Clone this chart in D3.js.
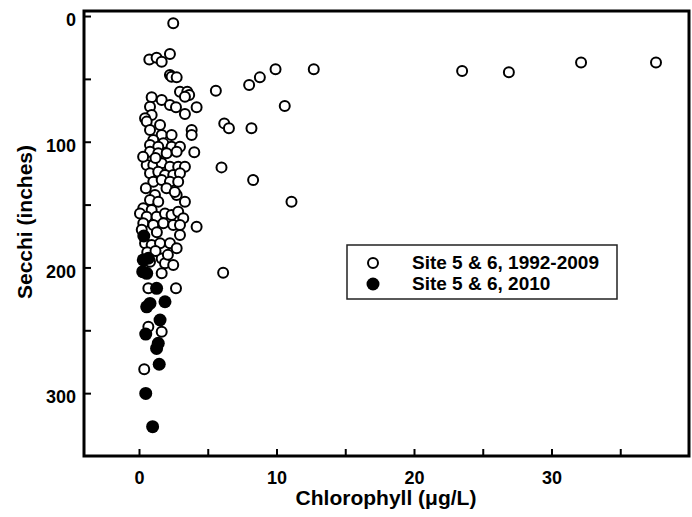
<!DOCTYPE html>
<html>
<head>
<meta charset="utf-8">
<script src="https://cdn.jsdelivr.net/npm/d3@7"></script>
<style>
  html, body { margin: 0; padding: 0; background: #fff; }
  text { font-family: "Liberation Sans", Arial, sans-serif; font-weight: bold; fill: #000; }
</style>
</head>
<body>
<svg id="chart" width="692" height="517"></svg>
<script>
// ---- data (Chlorophyll µg/L, Secchi inches) ----
const openChl = [2.49,0.75,1.28,1.65,2.25,2.25,2.37,2.74,5.59,2.98,3.51,3.65,3.34,0.92,0.80,0.92,1.65,2.25,2.69,3.34,4.19,0.44,
  8.01,8.79,9.93,12.71,10.6,6.2,6.54,8.18,3.83,3.83,4.02,6.0,8.3,11.09,4.19,
  23.5,26.9,32.15,37.6,
  0.56,1.53,0.8,1.65,2.37,1.04,1.77,0.8,1.4,2.37,2.98,0.8,1.4,2.01,2.74,
  0.56,1.04,1.65,2.25,2.85,3.34,0.8,1.4,1.89,2.49,2.98,1.04,1.65,2.25,2.85,
  2.74,3.34,1.16,0.8,1.4,0.31,0.92,0.07,0.56,1.28,1.89,2.37,2.85,3.22,0.31,1.04,1.77,2.49,2.98,
  2.98,0.44,0.92,1.53,2.25,2.74,1.65,1.89,2.49,0.8,1.65,0.68,2.69,0.68,1.65,0.38,6.12,
  0.3,1.2,0.5,2.0,2.6,0.2,1.3,0.6,1.2,2.1];
const openSecchi = [5.8,34.5,33.2,36.3,30.2,46.9,48.3,48.8,59.4,60.2,60.2,62.8,64.2,64.7,72.1,78.8,66.8,70.8,72.6,78,72.6,81.4,
  54.9,48.8,42.4,42.4,71.6,85.4,89.3,89.3,90.7,94.7,108.4,120.4,130.5,147.7,167.6,
  43.8,44.8,36.9,36.9,
  84,86.7,90.7,94.7,94.7,98.6,101.3,102.6,104,104,104,108,109.2,109.2,108,
  118.5,118.5,117.2,119.9,119.9,119.9,125.1,123.9,126.5,126.5,125.1,131.8,130.5,131.8,131.8,
  142.4,147.7,142.4,146.4,147.7,153,154.3,157,159.7,159.7,157,158.3,155.7,160.9,164.9,166.2,164.9,166.2,166.2,
  174.2,180.8,182.2,180.8,180.8,184.8,192.8,196.7,198.1,195.5,204.7,216.6,216.6,247.2,251.2,281,204.2,
  112,113,137,137,140,170,172,188,187,190];

const filledChl = [0.35,0.31,0.68,0.27,0.56,1.28,0.8,1.89,0.56,1.53,0.49,1.40,1.28,1.47,0.49,0.99];
const filledSecchi = [175,194,192.7,203.4,204.7,216.6,228.6,227.3,231.3,241.8,253,260.4,264.4,277,300.2,326.7];

const xTicks = [0,5,10,15,20,25,30,35];
const yTicks = [0,50,100,150,200,250,300];
const xLabels = ["0","","10","","20","","30",""];
const yLabels = ["0","","100","","200","","300"];
const legendLabels = ["Site 5 & 6, 1992-2009", "Site 5 & 6, 2010"];
const xTitle = "Chlorophyll (\u03bcg/L)";
const yTitle = "Secchi (inches)";

// ---- layout ----
const L = 84, R = 689, T = 11, B = 456;
const svg = d3.select("#chart");
const x = d3.scaleLinear().domain([-4, 40]).range([L, R]);
const y = d3.scaleLinear().domain([-4, 350]).range([T, B]);

// axes (inward ticks)
const xAxis = d3.axisBottom(x).tickValues(xTicks).tickSizeInner(-7).tickSizeOuter(0)
  .tickPadding(12).tickFormat((d, i) => xLabels[i]);
const yAxis = d3.axisLeft(y).tickValues(yTicks).tickSizeInner(-7).tickSizeOuter(0)
  .tickPadding(13).tickFormat((d, i) => yLabels[i]);

const gx = svg.append("g").attr("transform", `translate(0,${B})`).call(xAxis);
const gy = svg.append("g").attr("transform", `translate(${L},0)`).call(yAxis);
[gx, gy].forEach(g => {
  g.select(".domain").remove();
  g.selectAll(".tick line").attr("stroke", "#000").attr("stroke-width", 2);
  g.selectAll(".tick text").style("font-size", "18px").style("font-family", "Liberation Sans, Arial, sans-serif").style("font-weight", "bold");
});
gx.selectAll(".tick text").attr("dy", "0.71em").attr("y", 15);
gy.selectAll(".tick text").attr("dy", "0.32em").attr("y", 4).attr("x", -8);

// frame
svg.append("rect").attr("x", L).attr("y", T).attr("width", R - L).attr("height", B - T)
  .attr("fill", "none").attr("stroke", "#000").attr("stroke-width", 3);

// points
const openData = openChl.map((c, i) => [c, openSecchi[i]]);
const filledData = filledChl.map((c, i) => [c, filledSecchi[i]]);
svg.append("g").selectAll("circle").data(openData).join("circle")
  .attr("cx", d => x(d[0])).attr("cy", d => y(d[1])).attr("r", 5)
  .attr("fill", "#fff").attr("stroke", "#000").attr("stroke-width", 2);
svg.append("g").selectAll("circle").data(filledData).join("circle")
  .attr("cx", d => x(d[0])).attr("cy", d => y(d[1])).attr("r", 6.5)
  .attr("fill", "#000");

// legend
const lg = svg.append("g");
lg.append("rect").attr("x", 347).attr("y", 245).attr("width", 270).attr("height", 54)
  .attr("fill", "#fff").attr("stroke", "#222").attr("stroke-width", 1.5);
lg.append("circle").attr("cx", 373).attr("cy", 263).attr("r", 5).attr("fill", "#fff").attr("stroke", "#000").attr("stroke-width", 2);
lg.append("circle").attr("cx", 373).attr("cy", 284).attr("r", 6.5).attr("fill", "#000");
lg.selectAll("text.leg").data(legendLabels).join("text").attr("class", "leg")
  .attr("x", 412).attr("y", (d, i) => 269 + i * 21).style("font-size", "19px").text(d => d);

// titles
svg.append("text").attr("x", 386).attr("y", 505).attr("text-anchor", "middle")
  .style("font-size", "21px").text(xTitle);
svg.append("text").attr("transform", "translate(32,222) rotate(-90)").attr("text-anchor", "middle")
  .style("font-size", "21px").text(yTitle);
</script>
</body>
</html>
